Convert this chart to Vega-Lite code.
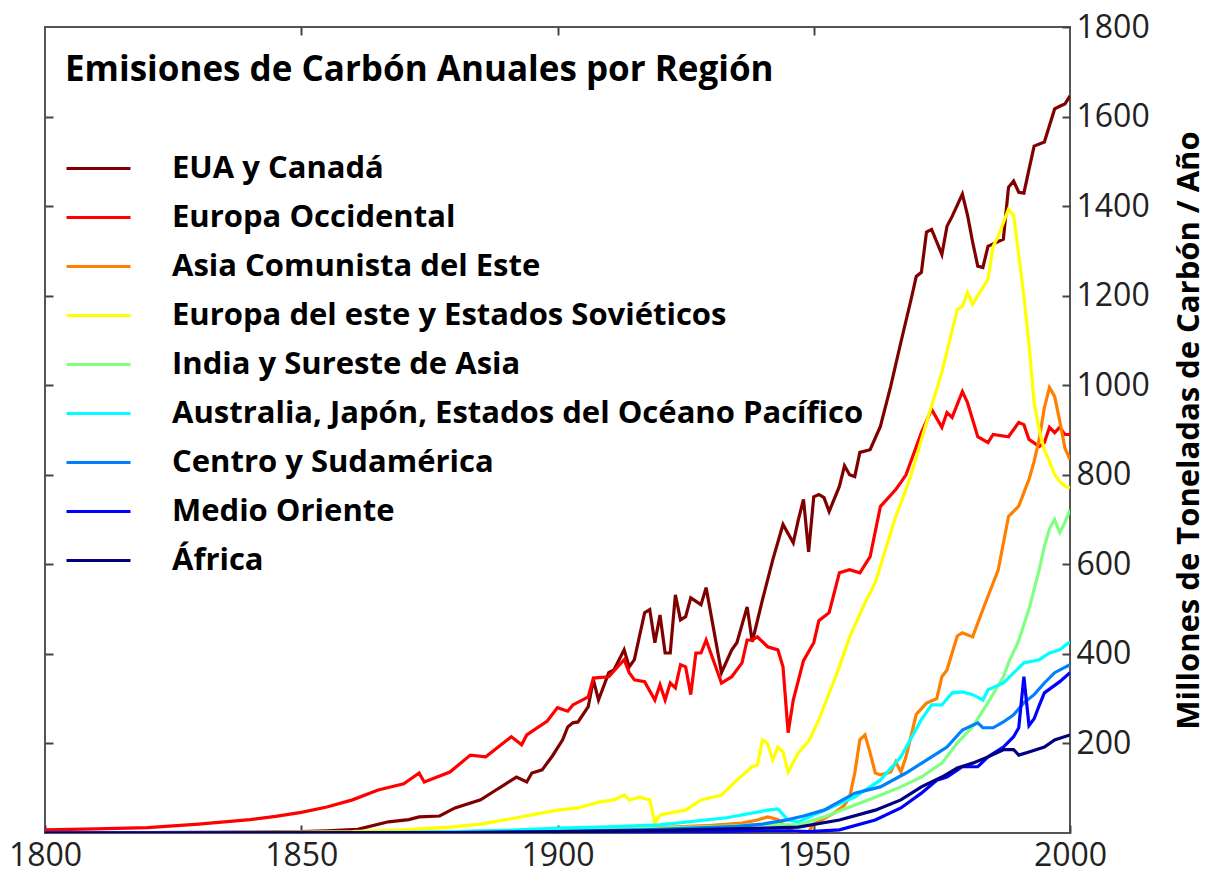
{
"$schema": "https://vega.github.io/schema/vega-lite/v6.json",
"width": 1025, "height": 806,
"autosize": {"type": "none"},
"padding": {"left": 45, "top": 27, "right": 142, "bottom": 45},
"background": "white",
"config": {"view": {"stroke": "#555", "strokeWidth": 2}, "font": "Open Sans"},
"datasets": {
"d": [
{"r":"EUA y Canadá","y":1800,"v":1},{"r":"EUA y Canadá","y":1820,"v":1},{"r":"EUA y Canadá","y":1840,"v":2},{"r":"EUA y Canadá","y":1850,"v":3},{"r":"EUA y Canadá","y":1855,"v":5},{"r":"EUA y Canadá","y":1861,"v":8},{"r":"EUA y Canadá","y":1867,"v":25},{"r":"EUA y Canadá","y":1871,"v":30},{"r":"EUA y Canadá","y":1873,"v":36},{"r":"EUA y Canadá","y":1877,"v":38},{"r":"EUA y Canadá","y":1880,"v":56},{"r":"EUA y Canadá","y":1885,"v":74},{"r":"EUA y Canadá","y":1888,"v":96},{"r":"EUA y Canadá","y":1889,"v":103},{"r":"EUA y Canadá","y":1892,"v":125},{"r":"EUA y Canadá","y":1894,"v":114},{"r":"EUA y Canadá","y":1895,"v":134},{"r":"EUA y Canadá","y":1897,"v":141},{"r":"EUA y Canadá","y":1899,"v":172},{"r":"EUA y Canadá","y":1901,"v":208},{"r":"EUA y Canadá","y":1902,"v":237},{"r":"EUA y Canadá","y":1903,"v":246},{"r":"EUA y Canadá","y":1904,"v":248},{"r":"EUA y Canadá","y":1906,"v":282},{"r":"EUA y Canadá","y":1907,"v":342},{"r":"EUA y Canadá","y":1908,"v":297},{"r":"EUA y Canadá","y":1910,"v":358},{"r":"EUA y Canadá","y":1911,"v":364},{"r":"EUA y Canadá","y":1913,"v":409},{"r":"EUA y Canadá","y":1914,"v":371},{"r":"EUA y Canadá","y":1915,"v":387},{"r":"EUA y Canadá","y":1917,"v":492},{"r":"EUA y Canadá","y":1918,"v":499},{"r":"EUA y Canadá","y":1919,"v":425},{"r":"EUA y Canadá","y":1920,"v":487},{"r":"EUA y Canadá","y":1921,"v":402},{"r":"EUA y Canadá","y":1922,"v":402},{"r":"EUA y Canadá","y":1923,"v":532},{"r":"EUA y Canadá","y":1924,"v":476},{"r":"EUA y Canadá","y":1925,"v":483},{"r":"EUA y Canadá","y":1926,"v":525},{"r":"EUA y Canadá","y":1928,"v":510},{"r":"EUA y Canadá","y":1929,"v":548},{"r":"EUA y Canadá","y":1932,"v":358},{"r":"EUA y Canadá","y":1934,"v":409},{"r":"EUA y Canadá","y":1935,"v":425},{"r":"EUA y Canadá","y":1937,"v":505},{"r":"EUA y Canadá","y":1938,"v":427},{"r":"EUA y Canadá","y":1940,"v":521},{"r":"EUA y Canadá","y":1942,"v":610},{"r":"EUA y Canadá","y":1944,"v":689},{"r":"EUA y Canadá","y":1946,"v":648},{"r":"EUA y Canadá","y":1947,"v":700},{"r":"EUA y Canadá","y":1948,"v":745},{"r":"EUA y Canadá","y":1949,"v":628},{"r":"EUA y Canadá","y":1950,"v":751},{"r":"EUA y Canadá","y":1951,"v":756},{"r":"EUA y Canadá","y":1952,"v":749},{"r":"EUA y Canadá","y":1953,"v":718},{"r":"EUA y Canadá","y":1955,"v":774},{"r":"EUA y Canadá","y":1956,"v":820},{"r":"EUA y Canadá","y":1957,"v":800},{"r":"EUA y Canadá","y":1958,"v":796},{"r":"EUA y Canadá","y":1959,"v":850},{"r":"EUA y Canadá","y":1961,"v":856},{"r":"EUA y Canadá","y":1963,"v":908},{"r":"EUA y Canadá","y":1965,"v":997},{"r":"EUA y Canadá","y":1967,"v":1096},{"r":"EUA y Canadá","y":1969,"v":1192},{"r":"EUA y Canadá","y":1970,"v":1243},{"r":"EUA y Canadá","y":1971,"v":1252},{"r":"EUA y Canadá","y":1972,"v":1342},{"r":"EUA y Canadá","y":1973,"v":1348},{"r":"EUA y Canadá","y":1975,"v":1292},{"r":"EUA y Canadá","y":1976,"v":1355},{"r":"EUA y Canadá","y":1977,"v":1377},{"r":"EUA y Canadá","y":1979,"v":1427},{"r":"EUA y Canadá","y":1980,"v":1380},{"r":"EUA y Canadá","y":1981,"v":1320},{"r":"EUA y Canadá","y":1982,"v":1266},{"r":"EUA y Canadá","y":1983,"v":1263},{"r":"EUA y Canadá","y":1984,"v":1310},{"r":"EUA y Canadá","y":1986,"v":1321},{"r":"EUA y Canadá","y":1987,"v":1326},{"r":"EUA y Canadá","y":1988,"v":1442},{"r":"EUA y Canadá","y":1989,"v":1456},{"r":"EUA y Canadá","y":1990,"v":1431},{"r":"EUA y Canadá","y":1991,"v":1429},{"r":"EUA y Canadá","y":1992,"v":1482},{"r":"EUA y Canadá","y":1993,"v":1534},{"r":"EUA y Canadá","y":1995,"v":1543},{"r":"EUA y Canadá","y":1997,"v":1617},{"r":"EUA y Canadá","y":1998,"v":1623},{"r":"EUA y Canadá","y":1999,"v":1628},{"r":"EUA y Canadá","y":2000,"v":1646},
{"r":"Europa Occidental","y":1800,"v":7},{"r":"Europa Occidental","y":1810,"v":9},{"r":"Europa Occidental","y":1820,"v":12},{"r":"Europa Occidental","y":1830,"v":20},{"r":"Europa Occidental","y":1840,"v":30},{"r":"Europa Occidental","y":1845,"v":37},{"r":"Europa Occidental","y":1850,"v":46},{"r":"Europa Occidental","y":1855,"v":58},{"r":"Europa Occidental","y":1860,"v":74},{"r":"Europa Occidental","y":1865,"v":96},{"r":"Europa Occidental","y":1870,"v":110},{"r":"Europa Occidental","y":1873,"v":134},{"r":"Europa Occidental","y":1874,"v":114},{"r":"Europa Occidental","y":1879,"v":136},{"r":"Europa Occidental","y":1883,"v":174},{"r":"Europa Occidental","y":1886,"v":170},{"r":"Europa Occidental","y":1891,"v":215},{"r":"Europa Occidental","y":1893,"v":197},{"r":"Europa Occidental","y":1894,"v":219},{"r":"Europa Occidental","y":1898,"v":250},{"r":"Europa Occidental","y":1900,"v":280},{"r":"Europa Occidental","y":1902,"v":272},{"r":"Europa Occidental","y":1903,"v":286},{"r":"Europa Occidental","y":1906,"v":304},{"r":"Europa Occidental","y":1907,"v":346},{"r":"Europa Occidental","y":1910,"v":349},{"r":"Europa Occidental","y":1913,"v":387},{"r":"Europa Occidental","y":1914,"v":358},{"r":"Europa Occidental","y":1915,"v":342},{"r":"Europa Occidental","y":1917,"v":338},{"r":"Europa Occidental","y":1919,"v":297},{"r":"Europa Occidental","y":1920,"v":331},{"r":"Europa Occidental","y":1921,"v":297},{"r":"Europa Occidental","y":1922,"v":335},{"r":"Europa Occidental","y":1923,"v":324},{"r":"Europa Occidental","y":1924,"v":376},{"r":"Europa Occidental","y":1925,"v":371},{"r":"Europa Occidental","y":1926,"v":309},{"r":"Europa Occidental","y":1927,"v":402},{"r":"Europa Occidental","y":1928,"v":402},{"r":"Europa Occidental","y":1929,"v":431},{"r":"Europa Occidental","y":1932,"v":335},{"r":"Europa Occidental","y":1934,"v":349},{"r":"Europa Occidental","y":1936,"v":380},{"r":"Europa Occidental","y":1937,"v":431},{"r":"Europa Occidental","y":1938,"v":431},{"r":"Europa Occidental","y":1939,"v":438},{"r":"Europa Occidental","y":1941,"v":416},{"r":"Europa Occidental","y":1943,"v":409},{"r":"Europa Occidental","y":1944,"v":371},{"r":"Europa Occidental","y":1945,"v":224},{"r":"Europa Occidental","y":1946,"v":297},{"r":"Europa Occidental","y":1948,"v":385},{"r":"Europa Occidental","y":1950,"v":425},{"r":"Europa Occidental","y":1951,"v":474},{"r":"Europa Occidental","y":1953,"v":492},{"r":"Europa Occidental","y":1955,"v":581},{"r":"Europa Occidental","y":1957,"v":588},{"r":"Europa Occidental","y":1959,"v":581},{"r":"Europa Occidental","y":1961,"v":617},{"r":"Europa Occidental","y":1963,"v":729},{"r":"Europa Occidental","y":1966,"v":767},{"r":"Europa Occidental","y":1967,"v":783},{"r":"Europa Occidental","y":1968,"v":800},{"r":"Europa Occidental","y":1971,"v":894},{"r":"Europa Occidental","y":1973,"v":946},{"r":"Europa Occidental","y":1975,"v":906},{"r":"Europa Occidental","y":1976,"v":939},{"r":"Europa Occidental","y":1977,"v":928},{"r":"Europa Occidental","y":1979,"v":986},{"r":"Europa Occidental","y":1980,"v":961},{"r":"Europa Occidental","y":1982,"v":885},{"r":"Europa Occidental","y":1984,"v":872},{"r":"Europa Occidental","y":1985,"v":890},{"r":"Europa Occidental","y":1988,"v":885},{"r":"Europa Occidental","y":1990,"v":917},{"r":"Europa Occidental","y":1991,"v":912},{"r":"Europa Occidental","y":1992,"v":879},{"r":"Europa Occidental","y":1994,"v":863},{"r":"Europa Occidental","y":1995,"v":872},{"r":"Europa Occidental","y":1996,"v":906},{"r":"Europa Occidental","y":1997,"v":894},{"r":"Europa Occidental","y":1998,"v":906},{"r":"Europa Occidental","y":1999,"v":890},{"r":"Europa Occidental","y":2000,"v":890},
{"r":"Asia Comunista del Este","y":1800,"v":0},{"r":"Asia Comunista del Este","y":1880,"v":1},{"r":"Asia Comunista del Este","y":1900,"v":4},{"r":"Asia Comunista del Este","y":1910,"v":8},{"r":"Asia Comunista del Este","y":1920,"v":12},{"r":"Asia Comunista del Este","y":1930,"v":17},{"r":"Asia Comunista del Este","y":1936,"v":22},{"r":"Asia Comunista del Este","y":1939,"v":29},{"r":"Asia Comunista del Este","y":1941,"v":36},{"r":"Asia Comunista del Este","y":1943,"v":30},{"r":"Asia Comunista del Este","y":1945,"v":8},{"r":"Asia Comunista del Este","y":1947,"v":1},{"r":"Asia Comunista del Este","y":1949,"v":3},{"r":"Asia Comunista del Este","y":1950,"v":20},{"r":"Asia Comunista del Este","y":1952,"v":32},{"r":"Asia Comunista del Este","y":1954,"v":45},{"r":"Asia Comunista del Este","y":1956,"v":62},{"r":"Asia Comunista del Este","y":1957,"v":80},{"r":"Asia Comunista del Este","y":1958,"v":134},{"r":"Asia Comunista del Este","y":1959,"v":208},{"r":"Asia Comunista del Este","y":1960,"v":219},{"r":"Asia Comunista del Este","y":1961,"v":179},{"r":"Asia Comunista del Este","y":1962,"v":134},{"r":"Asia Comunista del Este","y":1963,"v":130},{"r":"Asia Comunista del Este","y":1965,"v":136},{"r":"Asia Comunista del Este","y":1966,"v":159},{"r":"Asia Comunista del Este","y":1967,"v":136},{"r":"Asia Comunista del Este","y":1968,"v":170},{"r":"Asia Comunista del Este","y":1970,"v":265},{"r":"Asia Comunista del Este","y":1972,"v":290},{"r":"Asia Comunista del Este","y":1974,"v":300},{"r":"Asia Comunista del Este","y":1975,"v":349},{"r":"Asia Comunista del Este","y":1976,"v":364},{"r":"Asia Comunista del Este","y":1978,"v":440},{"r":"Asia Comunista del Este","y":1979,"v":447},{"r":"Asia Comunista del Este","y":1981,"v":438},{"r":"Asia Comunista del Este","y":1983,"v":499},{"r":"Asia Comunista del Este","y":1986,"v":588},{"r":"Asia Comunista del Este","y":1988,"v":707},{"r":"Asia Comunista del Este","y":1990,"v":730},{"r":"Asia Comunista del Este","y":1991,"v":760},{"r":"Asia Comunista del Este","y":1992,"v":790},{"r":"Asia Comunista del Este","y":1993,"v":830},{"r":"Asia Comunista del Este","y":1994,"v":880},{"r":"Asia Comunista del Este","y":1995,"v":950},{"r":"Asia Comunista del Este","y":1996,"v":995},{"r":"Asia Comunista del Este","y":1997,"v":975},{"r":"Asia Comunista del Este","y":1998,"v":920},{"r":"Asia Comunista del Este","y":1999,"v":860},{"r":"Asia Comunista del Este","y":2000,"v":834},
{"r":"Europa del este y Estados  Soviéticos","y":1800,"v":0},{"r":"Europa del este y Estados  Soviéticos","y":1830,"v":1},{"r":"Europa del este y Estados  Soviéticos","y":1850,"v":2},{"r":"Europa del este y Estados  Soviéticos","y":1860,"v":3},{"r":"Europa del este y Estados  Soviéticos","y":1870,"v":7},{"r":"Europa del este y Estados  Soviéticos","y":1879,"v":13},{"r":"Europa del este y Estados  Soviéticos","y":1885,"v":20},{"r":"Europa del este y Estados  Soviéticos","y":1892,"v":34},{"r":"Europa del este y Estados  Soviéticos","y":1897,"v":45},{"r":"Europa del este y Estados  Soviéticos","y":1900,"v":51},{"r":"Europa del este y Estados  Soviéticos","y":1904,"v":56},{"r":"Europa del este y Estados  Soviéticos","y":1908,"v":69},{"r":"Europa del este y Estados  Soviéticos","y":1911,"v":74},{"r":"Europa del este y Estados  Soviéticos","y":1913,"v":85},{"r":"Europa del este y Estados  Soviéticos","y":1914,"v":74},{"r":"Europa del este y Estados  Soviéticos","y":1916,"v":80},{"r":"Europa del este y Estados  Soviéticos","y":1918,"v":74},{"r":"Europa del este y Estados  Soviéticos","y":1919,"v":22},{"r":"Europa del este y Estados  Soviéticos","y":1920,"v":40},{"r":"Europa del este y Estados  Soviéticos","y":1922,"v":45},{"r":"Europa del este y Estados  Soviéticos","y":1925,"v":51},{"r":"Europa del este y Estados  Soviéticos","y":1928,"v":74},{"r":"Europa del este y Estados  Soviéticos","y":1932,"v":85},{"r":"Europa del este y Estados  Soviéticos","y":1935,"v":118},{"r":"Europa del este y Estados  Soviéticos","y":1938,"v":148},{"r":"Europa del este y Estados  Soviéticos","y":1939,"v":152},{"r":"Europa del este y Estados  Soviéticos","y":1940,"v":208},{"r":"Europa del este y Estados  Soviéticos","y":1941,"v":200},{"r":"Europa del este y Estados  Soviéticos","y":1942,"v":163},{"r":"Europa del este y Estados  Soviéticos","y":1943,"v":192},{"r":"Europa del este y Estados  Soviéticos","y":1944,"v":181},{"r":"Europa del este y Estados  Soviéticos","y":1945,"v":136},{"r":"Europa del este y Estados  Soviéticos","y":1947,"v":179},{"r":"Europa del este y Estados  Soviéticos","y":1949,"v":205},{"r":"Europa del este y Estados  Soviéticos","y":1951,"v":253},{"r":"Europa del este y Estados  Soviéticos","y":1955,"v":371},{"r":"Europa del este y Estados  Soviéticos","y":1957,"v":438},{"r":"Europa del este y Estados  Soviéticos","y":1960,"v":514},{"r":"Europa del este y Estados  Soviéticos","y":1962,"v":559},{"r":"Europa del este y Estados  Soviéticos","y":1964,"v":633},{"r":"Europa del este y Estados  Soviéticos","y":1966,"v":707},{"r":"Europa del este y Estados  Soviéticos","y":1968,"v":767},{"r":"Europa del este y Estados  Soviéticos","y":1969,"v":800},{"r":"Europa del este y Estados  Soviéticos","y":1972,"v":917},{"r":"Europa del este y Estados  Soviéticos","y":1975,"v":1029},{"r":"Europa del este y Estados  Soviéticos","y":1978,"v":1169},{"r":"Europa del este y Estados  Soviéticos","y":1979,"v":1176},{"r":"Europa del este y Estados  Soviéticos","y":1980,"v":1207},{"r":"Europa del este y Estados  Soviéticos","y":1981,"v":1181},{"r":"Europa del este y Estados  Soviéticos","y":1984,"v":1237},{"r":"Europa del este y Estados  Soviéticos","y":1985,"v":1310},{"r":"Europa del este y Estados  Soviéticos","y":1986,"v":1333},{"r":"Europa del este y Estados  Soviéticos","y":1988,"v":1393},{"r":"Europa del este y Estados  Soviéticos","y":1989,"v":1380},{"r":"Europa del este y Estados  Soviéticos","y":1990,"v":1290},{"r":"Europa del este y Estados  Soviéticos","y":1991,"v":1200},{"r":"Europa del este y Estados  Soviéticos","y":1992,"v":1090},{"r":"Europa del este y Estados  Soviéticos","y":1993,"v":960},{"r":"Europa del este y Estados  Soviéticos","y":1994,"v":900},{"r":"Europa del este y Estados  Soviéticos","y":1995,"v":855},{"r":"Europa del este y Estados  Soviéticos","y":1996,"v":830},{"r":"Europa del este y Estados  Soviéticos","y":1997,"v":800},{"r":"Europa del este y Estados  Soviéticos","y":1998,"v":785},{"r":"Europa del este y Estados  Soviéticos","y":1999,"v":775},{"r":"Europa del este y Estados  Soviéticos","y":2000,"v":771},
{"r":"India y Sureste de Asia","y":1800,"v":0},{"r":"India y Sureste de Asia","y":1860,"v":1},{"r":"India y Sureste de Asia","y":1880,"v":3},{"r":"India y Sureste de Asia","y":1900,"v":6},{"r":"India y Sureste de Asia","y":1920,"v":11},{"r":"India y Sureste de Asia","y":1935,"v":16},{"r":"India y Sureste de Asia","y":1940,"v":20},{"r":"India y Sureste de Asia","y":1945,"v":18},{"r":"India y Sureste de Asia","y":1947,"v":18},{"r":"India y Sureste de Asia","y":1952,"v":36},{"r":"India y Sureste de Asia","y":1957,"v":58},{"r":"India y Sureste de Asia","y":1962,"v":80},{"r":"India y Sureste de Asia","y":1967,"v":103},{"r":"India y Sureste de Asia","y":1971,"v":125},{"r":"India y Sureste de Asia","y":1975,"v":156},{"r":"India y Sureste de Asia","y":1978,"v":201},{"r":"India y Sureste de Asia","y":1981,"v":237},{"r":"India y Sureste de Asia","y":1984,"v":291},{"r":"India y Sureste de Asia","y":1987,"v":349},{"r":"India y Sureste de Asia","y":1988,"v":380},{"r":"India y Sureste de Asia","y":1990,"v":430},{"r":"India y Sureste de Asia","y":1992,"v":500},{"r":"India y Sureste de Asia","y":1994,"v":588},{"r":"India y Sureste de Asia","y":1995,"v":640},{"r":"India y Sureste de Asia","y":1996,"v":680},{"r":"India y Sureste de Asia","y":1997,"v":700},{"r":"India y Sureste de Asia","y":1998,"v":671},{"r":"India y Sureste de Asia","y":1999,"v":693},{"r":"India y Sureste de Asia","y":2000,"v":722},
{"r":"Australia, Japón, Estados del Océano Pacífico","y":1800,"v":0},{"r":"Australia, Japón, Estados del Océano Pacífico","y":1870,"v":1},{"r":"Australia, Japón, Estados del Océano Pacífico","y":1880,"v":3},{"r":"Australia, Japón, Estados del Océano Pacífico","y":1890,"v":6},{"r":"Australia, Japón, Estados del Océano Pacífico","y":1900,"v":11},{"r":"Australia, Japón, Estados del Océano Pacífico","y":1910,"v":14},{"r":"Australia, Japón, Estados del Océano Pacífico","y":1920,"v":18},{"r":"Australia, Japón, Estados del Océano Pacífico","y":1933,"v":34},{"r":"Australia, Japón, Estados del Océano Pacífico","y":1941,"v":51},{"r":"Australia, Japón, Estados del Océano Pacífico","y":1943,"v":54},{"r":"Australia, Japón, Estados del Océano Pacífico","y":1945,"v":29},{"r":"Australia, Japón, Estados del Océano Pacífico","y":1947,"v":25},{"r":"Australia, Japón, Estados del Océano Pacífico","y":1950,"v":40},{"r":"Australia, Japón, Estados del Océano Pacífico","y":1953,"v":55},{"r":"Australia, Japón, Estados del Océano Pacífico","y":1955,"v":65},{"r":"Australia, Japón, Estados del Océano Pacífico","y":1958,"v":80},{"r":"Australia, Japón, Estados del Océano Pacífico","y":1963,"v":118},{"r":"Australia, Japón, Estados del Océano Pacífico","y":1967,"v":170},{"r":"Australia, Japón, Estados del Océano Pacífico","y":1971,"v":253},{"r":"Australia, Japón, Estados del Océano Pacífico","y":1973,"v":286},{"r":"Australia, Japón, Estados del Océano Pacífico","y":1975,"v":286},{"r":"Australia, Japón, Estados del Océano Pacífico","y":1977,"v":313},{"r":"Australia, Japón, Estados del Océano Pacífico","y":1979,"v":315},{"r":"Australia, Japón, Estados del Océano Pacífico","y":1981,"v":309},{"r":"Australia, Japón, Estados del Océano Pacífico","y":1983,"v":297},{"r":"Australia, Japón, Estados del Océano Pacífico","y":1984,"v":320},{"r":"Australia, Japón, Estados del Océano Pacífico","y":1987,"v":335},{"r":"Australia, Japón, Estados del Océano Pacífico","y":1991,"v":380},{"r":"Australia, Japón, Estados del Océano Pacífico","y":1994,"v":387},{"r":"Australia, Japón, Estados del Océano Pacífico","y":1996,"v":402},{"r":"Australia, Japón, Estados del Océano Pacífico","y":1998,"v":409},{"r":"Australia, Japón, Estados del Océano Pacífico","y":2000,"v":427},
{"r":"Centro y Sudamérica","y":1800,"v":0},{"r":"Centro y Sudamérica","y":1880,"v":1},{"r":"Centro y Sudamérica","y":1900,"v":3},{"r":"Centro y Sudamérica","y":1920,"v":8},{"r":"Centro y Sudamérica","y":1935,"v":15},{"r":"Centro y Sudamérica","y":1940,"v":20},{"r":"Centro y Sudamérica","y":1945,"v":30},{"r":"Centro y Sudamérica","y":1948,"v":38},{"r":"Centro y Sudamérica","y":1952,"v":51},{"r":"Centro y Sudamérica","y":1958,"v":89},{"r":"Centro y Sudamérica","y":1963,"v":103},{"r":"Centro y Sudamérica","y":1968,"v":134},{"r":"Centro y Sudamérica","y":1973,"v":170},{"r":"Centro y Sudamérica","y":1976,"v":192},{"r":"Centro y Sudamérica","y":1979,"v":230},{"r":"Centro y Sudamérica","y":1982,"v":246},{"r":"Centro y Sudamérica","y":1983,"v":235},{"r":"Centro y Sudamérica","y":1985,"v":235},{"r":"Centro y Sudamérica","y":1987,"v":248},{"r":"Centro y Sudamérica","y":1989,"v":264},{"r":"Centro y Sudamérica","y":1991,"v":291},{"r":"Centro y Sudamérica","y":1993,"v":309},{"r":"Centro y Sudamérica","y":1995,"v":335},{"r":"Centro y Sudamérica","y":1997,"v":358},{"r":"Centro y Sudamérica","y":2000,"v":376},
{"r":"Medio Oriente","y":1800,"v":0},{"r":"Medio Oriente","y":1900,"v":0},{"r":"Medio Oriente","y":1920,"v":1},{"r":"Medio Oriente","y":1930,"v":3},{"r":"Medio Oriente","y":1940,"v":5},{"r":"Medio Oriente","y":1945,"v":5},{"r":"Medio Oriente","y":1949,"v":3},{"r":"Medio Oriente","y":1955,"v":7},{"r":"Medio Oriente","y":1962,"v":29},{"r":"Medio Oriente","y":1967,"v":56},{"r":"Medio Oriente","y":1971,"v":89},{"r":"Medio Oriente","y":1974,"v":118},{"r":"Medio Oriente","y":1976,"v":125},{"r":"Medio Oriente","y":1979,"v":148},{"r":"Medio Oriente","y":1982,"v":148},{"r":"Medio Oriente","y":1984,"v":170},{"r":"Medio Oriente","y":1987,"v":192},{"r":"Medio Oriente","y":1989,"v":215},{"r":"Medio Oriente","y":1990,"v":235},{"r":"Medio Oriente","y":1991,"v":349},{"r":"Medio Oriente","y":1992,"v":240},{"r":"Medio Oriente","y":1993,"v":255},{"r":"Medio Oriente","y":1994,"v":285},{"r":"Medio Oriente","y":1995,"v":313},{"r":"Medio Oriente","y":1998,"v":338},{"r":"Medio Oriente","y":2000,"v":358},
{"r":"África","y":1800,"v":0},{"r":"África","y":1880,"v":1},{"r":"África","y":1900,"v":3},{"r":"África","y":1920,"v":6},{"r":"África","y":1940,"v":11},{"r":"África","y":1947,"v":13},{"r":"África","y":1955,"v":29},{"r":"África","y":1962,"v":51},{"r":"África","y":1967,"v":74},{"r":"África","y":1971,"v":103},{"r":"África","y":1975,"v":125},{"r":"África","y":1978,"v":145},{"r":"África","y":1981,"v":156},{"r":"África","y":1984,"v":170},{"r":"África","y":1987,"v":186},{"r":"África","y":1989,"v":186},{"r":"África","y":1990,"v":174},{"r":"África","y":1992,"v":181},{"r":"África","y":1995,"v":192},{"r":"África","y":1997,"v":208},{"r":"África","y":2000,"v":219}
]},
"data": {"name": "d"},
"resolve": {"axis": {"x": "independent", "y": "independent"}},
"layer": [
{
"mark": {"type": "line", "opacity": 0, "clip": true},
"encoding": {
"x": {"field": "y", "type": "quantitative", "scale": {"domain": [1800, 2000], "nice": false, "zero": false},
  "axis": {"orient": "top", "values": [1850, 1900, 1950], "labels": false, "domain": false, "grid": false, "title": null, "tickSize": -8, "tickColor": "#444", "tickWidth": 2}},
"y": {"field": "v", "type": "quantitative", "scale": {"domain": [0, 1800], "nice": false},
  "axis": {"orient": "left", "values": [200, 400, 600, 800, 1000, 1200, 1400, 1600], "labels": false, "domain": false, "grid": false, "title": null, "tickSize": -8, "tickColor": "#444", "tickWidth": 2}},
"detail": {"field": "r"}
}
},
{
"mark": {"type": "line", "strokeWidth": 3.2, "clip": true},
"encoding": {
"x": {"field": "y", "type": "quantitative", "scale": {"domain": [1800, 2000], "nice": false, "zero": false},
  "axis": {"orient": "bottom", "values": [1800, 1850, 1900, 1950, 2000], "format": "d", "labelFlush": false, "domain": false, "grid": false, "title": null, "tickSize": -8, "tickColor": "#444", "tickWidth": 2, "labelFont": "Open Sans", "labelFontSize": 32, "labelColor": "#222", "labelPadding": 15}},
"y": {"field": "v", "type": "quantitative", "scale": {"domain": [0, 1800], "nice": false},
  "axis": {"orient": "right", "values": [200, 400, 600, 800, 1000, 1200, 1400, 1600, 1800], "format": "d", "labelFlush": false, "domain": false, "grid": false, "tickSize": -8, "tickColor": "#444", "tickWidth": 2, "labelFont": "Open Sans", "labelFontSize": 32, "labelColor": "#222", "labelPadding": 14,
  "title": "Millones de Toneladas de Carbón / Año", "titleAngle": 270, "titleFont": "Open Sans", "titleFontSize": 31, "titleFontWeight": "bold", "titleColor": "#000", "titlePadding": 56}},
"color": {"field": "r", "type": "nominal",
  "scale": {"domain": ["EUA y Canadá", "Europa Occidental", "Asia Comunista del Este", "Europa del este y Estados  Soviéticos", "India y Sureste de Asia", "Australia, Japón, Estados del Océano Pacífico", "Centro y Sudamérica", "Medio Oriente", "África"],
            "range": ["#800000", "#ff0000", "#ff8000", "#ffff00", "#80ff80", "#00ffff", "#0080ff", "#0000ff", "#000080"]},
  "legend": {"orient": "none", "legendX": 20, "legendY": 26, "padding": 0,
    "title": "Emisiones de Carbón Anuales por Región", "titleFont": "Open Sans", "titleFontSize": 35, "titleFontWeight": "bold", "titleColor": "#000", "titlePadding": 47, "titleLimit": 1000,
    "labelFont": "Open Sans", "labelFontSize": 31, "labelFontWeight": "bold", "labelColor": "#000", "labelLimit": 1000, "labelOffset": 40,
    "symbolType": "stroke", "symbolSize": 4096, "symbolStrokeWidth": 3, "rowPadding": 0}}
}
}
]
}
